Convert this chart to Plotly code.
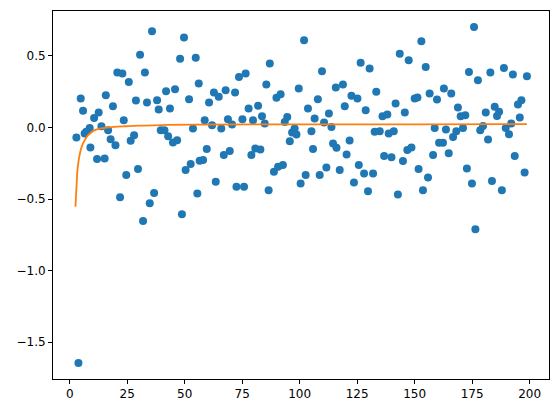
import plotly.graph_objects as go

# scatter data
x_pts = [2.9, 3.8, 4.8, 5.8, 6.5, 7.2, 8.7, 9.0, 10.6, 11.9, 12.6, 13.8, 15.2, 15.7, 16.7, 17.8, 18.8, 19.9,
         20.7, 21.9, 22.9, 23.5, 24.6, 25.7, 26.5,
         28.0, 28.8, 29.7, 30.6, 31.9, 32.7, 33.6, 34.8, 35.8, 36.7, 38.0, 38.7, 39.6, 41.2, 41.9, 42.8, 43.6,
         44.9, 45.8, 46.7, 48.0, 48.8, 49.7, 50.4, 51.9, 52.6, 53.6, 54.8, 55.5, 56.1, 56.5,
         58.0, 58.7, 59.6, 60.6, 61.9, 62.7, 63.5, 64.8, 65.9, 67.0, 67.8, 68.8, 69.6, 70.6, 71.9, 72.5, 73.6,
         75.1, 75.8, 76.5, 77.8, 79.0, 79.7, 80.7, 81.9, 82.9, 83.6, 84.8, 85.5, 86.5, 87.0,
         88.8, 89.9, 90.6, 91.7, 92.7, 93.5, 94.6, 95.7, 96.7, 97.8, 98.6, 99.6, 100.4, 101.9, 102.6, 103.6,
         105.1, 105.8, 106.5, 107.9, 108.7, 109.7, 110.6, 111.6, 112.7, 113.8, 114.5, 115.7, 116.0, 117.4,
         118.8, 119.6, 120.4, 121.7, 122.5, 123.6, 125.1, 125.7, 126.5, 128.0, 128.7, 129.7, 130.4, 131.9,
         132.6, 133.3, 134.8, 136.0, 136.7, 138.1, 138.7, 139.9, 140.9, 141.7, 142.7, 143.5, 144.9, 145.7,
         146.8, 147.4,
         148.6, 150.0, 151.2, 151.7, 152.9, 153.6, 154.8, 155.8, 156.5, 158.0, 158.7, 159.7, 160.6, 162.3,
         162.7, 163.6, 164.8, 165.9, 166.7, 168.1, 168.8, 170.0, 171.0, 172.0, 172.7, 173.6, 174.9, 175.8,
         176.4, 177.5, 178.5,
         179.7, 180.9, 181.9, 182.9, 183.6, 184.8, 185.8, 186.7, 187.9, 188.8, 189.6, 191.0, 192.0, 192.7,
         193.5, 194.9, 195.7, 196.4, 197.8, 198.8]
y_pts = [-0.07, -1.647, 0.202, 0.116, -0.042, -0.03, -0.003, -0.14, 0.067, -0.221, 0.105, 0.009, -0.217, 0.225,
         -0.019, -0.082, 0.149, -0.124, 0.384, -0.488, 0.377, 0.051, -0.333, 0.318, -0.093,
         -0.054, 0.188, -0.291, 0.509, -0.654, 0.384, 0.174, -0.53, 0.672, -0.458, 0.19, 0.126, -0.02, -0.02,
         0.253, -0.061, 0.133, -0.105, 0.267, -0.089, 0.481, -0.607, 0.628, -0.298, 0.197, -0.256, -0.007,
         0.488, -0.461, 0.307, -0.233,
         -0.228, 0.051, -0.151, 0.174, 0.016, 0.244, -0.38, 0.214, -0.007, -0.193, 0.26, 0.058, -0.165, 0.021,
         0.244, -0.414, 0.353, 0.058, -0.414, 0.377, 0.133, -0.193, 0.051, -0.147, 0.151, -0.154, 0.079, 0.028,
         0.30, -0.438, 0.447,
         -0.31, 0.207, -0.275, 0.232, -0.263, 0.039, 0.074, -0.096, -0.035, -0.007, -0.049, 0.272, -0.391,
         0.609, -0.333, 0.133, -0.026, -0.151, 0.063, 0.197, -0.333, 0.393, 0.035, -0.279, 0.098, 0.004,
         -0.112, 0.279, -0.142, -0.298,
         0.30, 0.149, -0.189, -0.091, 0.221, -0.384, 0.202, -0.263, 0.453, -0.321, 0.121, -0.445, 0.412,
         -0.321, -0.03, 0.249, -0.026, 0.079, -0.20, 0.091, -0.042, -0.209, -0.026, 0.167, -0.468, 0.516,
         -0.235, 0.105, -0.158, 0.47,
         -0.14, 0.202, 0.209, -0.291, 0.602, -0.438, 0.423, -0.349, 0.237, -0.193, -0.003, 0.195, -0.107,
         -0.107, 0.272, -0.014, -0.181, 0.237, -0.066, -0.026, 0.14, 0.079, -0.003, 0.086, -0.286, 0.388,
         -0.391, 0.702, -0.712, 0.33, -0.019,
         0.011, 0.105, -0.084, 0.384, -0.375, 0.144, 0.081, 0.109, -0.438, 0.416, -0.003, -0.047, 0.028,
         0.37, -0.2, 0.16, 0.07, 0.19, -0.314, 0.358]

# fitted curve
x_fit = [2.5, 3.0, 3.3, 3.8, 4.3, 5.0, 5.8, 7.0, 8.0, 9.5, 10.9, 13.0, 15.2, 18.0, 22.5, 30.0, 40.0,
         55.0, 100.0, 150.0, 198.8]
y_fit = [-0.554, -0.40, -0.31, -0.24, -0.193, -0.145, -0.112, -0.075, -0.054, -0.033, -0.019, -0.008,
         -0.003, 0.003, 0.007, 0.013, 0.017, 0.020, 0.022, 0.022, 0.023]

x_ticks = [0, 25, 50, 75, 100, 125, 150, 175, 200]
y_ticks = [-1.5, -1.0, -0.5, 0.0, 0.5]

fig = go.Figure()
fig.add_trace(go.Scatter(x=x_pts, y=y_pts, mode="markers",
                         marker=dict(color="#1f77b4", size=8, line=dict(width=0)),
                         showlegend=False))
fig.add_trace(go.Scatter(x=x_fit, y=y_fit, mode="lines", line_shape="spline",
                         line=dict(color="#ff7f0e", width=1.8), showlegend=False))

axis_common = dict(showgrid=False, zeroline=False, showline=True, mirror=True,
                   linecolor="black", linewidth=1, ticks="outside", ticklen=4,
                   tickwidth=1, tickcolor="black",
                   tickfont=dict(family="DejaVu Sans", size=12, color="black"))
fig.update_xaxes(range=[-7.26, 208.4], tickvals=x_ticks, **axis_common)
fig.update_yaxes(range=[-1.758, 0.814], tickvals=y_ticks, tickformat=".1f", **axis_common)

fig.update_layout(width=551, height=405, margin=dict(l=45, r=10, t=3, b=34),
                  paper_bgcolor="white", plot_bgcolor="white",
                  font=dict(family="DejaVu Sans", size=12, color="black"))

fig.write_html("out.html")
